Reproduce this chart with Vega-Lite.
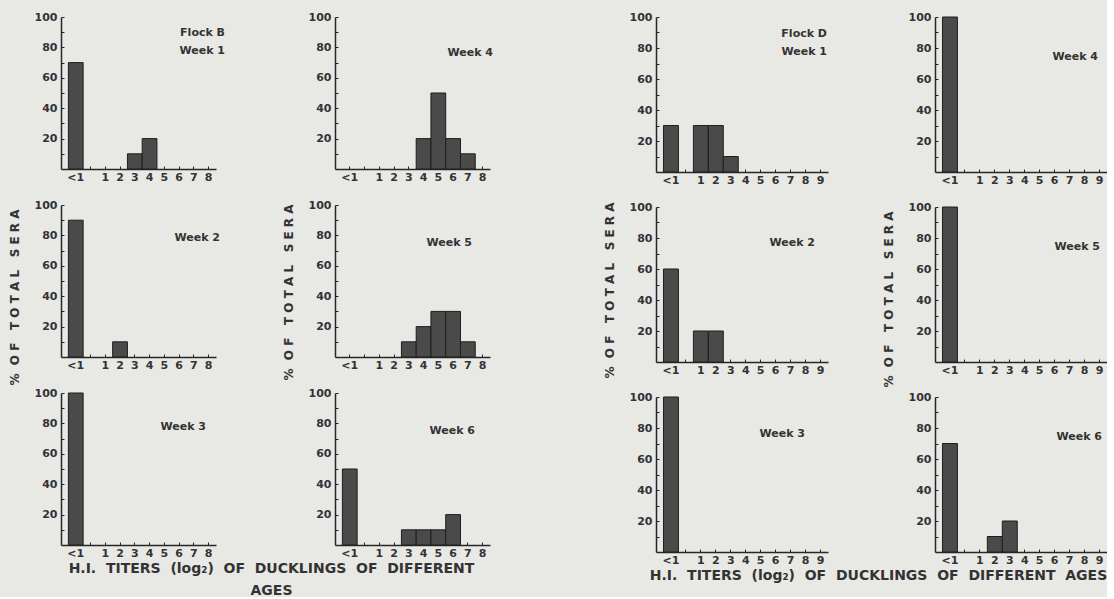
{
  "$schema": "https://vega.github.io/schema/vega-lite/v6.json",
  "background": "#e8e8e5",
  "padding": {"left": 8, "top": 11, "right": 0, "bottom": 0},
  "datasets": {
    "hist": [
      {"flock": "B", "week": 1, "titer": "<1", "pct": 70},
      {"flock": "B", "week": 1, "titer": "3", "pct": 10},
      {"flock": "B", "week": 1, "titer": "4", "pct": 20},
      {"flock": "B", "week": 2, "titer": "<1", "pct": 90},
      {"flock": "B", "week": 2, "titer": "2", "pct": 10},
      {"flock": "B", "week": 3, "titer": "<1", "pct": 100},
      {"flock": "B", "week": 4, "titer": "4", "pct": 20},
      {"flock": "B", "week": 4, "titer": "5", "pct": 50},
      {"flock": "B", "week": 4, "titer": "6", "pct": 20},
      {"flock": "B", "week": 4, "titer": "7", "pct": 10},
      {"flock": "B", "week": 5, "titer": "3", "pct": 10},
      {"flock": "B", "week": 5, "titer": "4", "pct": 20},
      {"flock": "B", "week": 5, "titer": "5", "pct": 30},
      {"flock": "B", "week": 5, "titer": "6", "pct": 30},
      {"flock": "B", "week": 5, "titer": "7", "pct": 10},
      {"flock": "B", "week": 6, "titer": "<1", "pct": 50},
      {"flock": "B", "week": 6, "titer": "3", "pct": 10},
      {"flock": "B", "week": 6, "titer": "4", "pct": 10},
      {"flock": "B", "week": 6, "titer": "5", "pct": 10},
      {"flock": "B", "week": 6, "titer": "6", "pct": 20},
      {"flock": "D", "week": 1, "titer": "<1", "pct": 30},
      {"flock": "D", "week": 1, "titer": "1", "pct": 30},
      {"flock": "D", "week": 1, "titer": "2", "pct": 30},
      {"flock": "D", "week": 1, "titer": "3", "pct": 10},
      {"flock": "D", "week": 2, "titer": "<1", "pct": 60},
      {"flock": "D", "week": 2, "titer": "1", "pct": 20},
      {"flock": "D", "week": 2, "titer": "2", "pct": 20},
      {"flock": "D", "week": 3, "titer": "<1", "pct": 100},
      {"flock": "D", "week": 4, "titer": "<1", "pct": 100},
      {"flock": "D", "week": 5, "titer": "<1", "pct": 100},
      {"flock": "D", "week": 6, "titer": "<1", "pct": 70},
      {"flock": "D", "week": 6, "titer": "2", "pct": 10},
      {"flock": "D", "week": 6, "titer": "3", "pct": 20}
    ]
  },
  "spacing": 110,
  "hconcat": [
    {
      "bounds": "flush",
      "columns": 2,
      "spacing": {"column": 119, "row": 36},
      "concat": [
        {
          "width": 155, "height": 152,
          "data": {"name": "hist"},
          "transform": [{"filter": "datum.flock == 'B' && datum.week == 1"}],
          "title": {"text": ["Flock B", "Week 1"], "dx": 9, "dy": 49},
          "mark": "bar",
          "encoding": {
            "x": {"field": "titer", "type": "ordinal", "sort": null, "scale": {"domain": ["<1", " ", "1", "2", "3", "4", "5", "6", "7", "8"], "paddingInner": 0, "paddingOuter": 0.25, "align": 1}},
            "y": {"field": "pct", "type": "quantitative", "scale": {"domain": [0, 100]}, "axis": {"values": [10, 20, 30, 40, 50, 60, 70, 80, 90, 100], "labelExpr": "datum.value % 20 == 0 ? datum.label : ''"}}
          }
        },
        {
          "width": 155, "height": 152,
          "data": {"name": "hist"},
          "transform": [{"filter": "datum.flock == 'B' && datum.week == 4"}],
          "title": {"text": "Week 4", "dx": 3, "dy": 51},
          "mark": "bar",
          "encoding": {
            "x": {"field": "titer", "type": "ordinal", "sort": null, "scale": {"domain": ["<1", " ", "1", "2", "3", "4", "5", "6", "7", "8"], "paddingInner": 0, "paddingOuter": 0.25, "align": 1}},
            "y": {"field": "pct", "type": "quantitative", "scale": {"domain": [0, 100]}, "axis": {"values": [10, 20, 30, 40, 50, 60, 70, 80, 90, 100], "labelExpr": "datum.value % 20 == 0 ? datum.label : ''"}}
          }
        },
        {
          "width": 155, "height": 152,
          "data": {"name": "hist"},
          "transform": [{"filter": "datum.flock == 'B' && datum.week == 2"}],
          "title": {"text": "Week 2", "dx": 4, "dy": 48},
          "mark": "bar",
          "encoding": {
            "x": {"field": "titer", "type": "ordinal", "sort": null, "scale": {"domain": ["<1", " ", "1", "2", "3", "4", "5", "6", "7", "8"], "paddingInner": 0, "paddingOuter": 0.25, "align": 1}},
            "y": {"field": "pct", "type": "quantitative", "scale": {"domain": [0, 100]}, "axis": {"values": [10, 20, 30, 40, 50, 60, 70, 80, 90, 100], "labelExpr": "datum.value % 20 == 0 ? datum.label : ''", "title": "% \u00a0O F \u00a0\u00a0T O T A L \u00a0\u00a0S E R A", "titlePadding": 13, "titleY": 92}}
          }
        },
        {
          "width": 155, "height": 152,
          "data": {"name": "hist"},
          "transform": [{"filter": "datum.flock == 'B' && datum.week == 5"}],
          "title": {"text": "Week 5", "dx": -18, "dy": 53},
          "mark": "bar",
          "encoding": {
            "x": {"field": "titer", "type": "ordinal", "sort": null, "scale": {"domain": ["<1", " ", "1", "2", "3", "4", "5", "6", "7", "8"], "paddingInner": 0, "paddingOuter": 0.25, "align": 1}},
            "y": {"field": "pct", "type": "quantitative", "scale": {"domain": [0, 100]}, "axis": {"values": [10, 20, 30, 40, 50, 60, 70, 80, 90, 100], "labelExpr": "datum.value % 20 == 0 ? datum.label : ''", "title": "% \u00a0O F \u00a0\u00a0T O T A L \u00a0\u00a0S E R A", "titlePadding": 13, "titleY": 87}}
          }
        },
        {
          "width": 155, "height": 152,
          "data": {"name": "hist"},
          "transform": [{"filter": "datum.flock == 'B' && datum.week == 3"}],
          "title": {"text": "Week 3", "dx": -10, "dy": 49},
          "mark": "bar",
          "encoding": {
            "x": {"field": "titer", "type": "ordinal", "sort": null, "scale": {"domain": ["<1", " ", "1", "2", "3", "4", "5", "6", "7", "8"], "paddingInner": 0, "paddingOuter": 0.25, "align": 1}, "axis": {"title": ["H.I.\u00a0 TITERS\u00a0 (log₂)\u00a0 OF\u00a0 DUCKLINGS\u00a0 OF\u00a0 DIFFERENT", "AGES"], "titleX": 210, "titleAlign": "center", "titleFontSize": 14, "titleLineHeight": 22, "titlePadding": 3}},
            "y": {"field": "pct", "type": "quantitative", "scale": {"domain": [0, 100]}, "axis": {"values": [10, 20, 30, 40, 50, 60, 70, 80, 90, 100], "labelExpr": "datum.value % 20 == 0 ? datum.label : ''"}}
          }
        },
        {
          "width": 155, "height": 152,
          "data": {"name": "hist"},
          "transform": [{"filter": "datum.flock == 'B' && datum.week == 6"}],
          "title": {"text": "Week 6", "dx": -15, "dy": 53},
          "mark": "bar",
          "encoding": {
            "x": {"field": "titer", "type": "ordinal", "sort": null, "scale": {"domain": ["<1", " ", "1", "2", "3", "4", "5", "6", "7", "8"], "paddingInner": 0, "paddingOuter": 0.25, "align": 1}},
            "y": {"field": "pct", "type": "quantitative", "scale": {"domain": [0, 100]}, "axis": {"values": [10, 20, 30, 40, 50, 60, 70, 80, 90, 100], "labelExpr": "datum.value % 20 == 0 ? datum.label : ''"}}
          }
        }
      ]
    },
    {
      "bounds": "flush",
      "columns": 2,
      "spacing": {"column": 107, "row": 35},
      "concat": [
        {
          "width": 172, "height": 155,
          "data": {"name": "hist"},
          "transform": [{"filter": "datum.flock == 'D' && datum.week == 1"}],
          "title": {"text": ["Flock D", "Week 1"], "dx": -1, "dy": 50},
          "mark": "bar",
          "encoding": {
            "x": {"field": "titer", "type": "ordinal", "sort": null, "scale": {"domain": ["<1", " ", "1", "2", "3", "4", "5", "6", "7", "8", "9"], "paddingInner": 0, "paddingOuter": 0.25, "align": 1}},
            "y": {"field": "pct", "type": "quantitative", "scale": {"domain": [0, 100]}, "axis": {"values": [10, 20, 30, 40, 50, 60, 70, 80, 90, 100], "labelExpr": "datum.value % 20 == 0 ? datum.label : ''"}}
          }
        },
        {
          "width": 172, "height": 155,
          "data": {"name": "hist"},
          "transform": [{"filter": "datum.flock == 'D' && datum.week == 4"}],
          "title": {"text": "Week 4", "dx": -9, "dy": 55},
          "mark": "bar",
          "encoding": {
            "x": {"field": "titer", "type": "ordinal", "sort": null, "scale": {"domain": ["<1", " ", "1", "2", "3", "4", "5", "6", "7", "8", "9"], "paddingInner": 0, "paddingOuter": 0.25, "align": 1}},
            "y": {"field": "pct", "type": "quantitative", "scale": {"domain": [0, 100]}, "axis": {"values": [10, 20, 30, 40, 50, 60, 70, 80, 90, 100], "labelExpr": "datum.value % 20 == 0 ? datum.label : ''"}}
          }
        },
        {
          "width": 172, "height": 155,
          "data": {"name": "hist"},
          "transform": [{"filter": "datum.flock == 'D' && datum.week == 2"}],
          "title": {"text": "Week 2", "dx": -13, "dy": 51},
          "mark": "bar",
          "encoding": {
            "x": {"field": "titer", "type": "ordinal", "sort": null, "scale": {"domain": ["<1", " ", "1", "2", "3", "4", "5", "6", "7", "8", "9"], "paddingInner": 0, "paddingOuter": 0.25, "align": 1}},
            "y": {"field": "pct", "type": "quantitative", "scale": {"domain": [0, 100]}, "axis": {"values": [10, 20, 30, 40, 50, 60, 70, 80, 90, 100], "labelExpr": "datum.value % 20 == 0 ? datum.label : ''", "title": "% \u00a0O F \u00a0\u00a0T O T A L \u00a0\u00a0S E R A", "titlePadding": 13, "titleY": 83}}
          }
        },
        {
          "width": 172, "height": 155,
          "data": {"name": "hist"},
          "transform": [{"filter": "datum.flock == 'D' && datum.week == 5"}],
          "title": {"text": "Week 5", "dx": -7, "dy": 55},
          "mark": "bar",
          "encoding": {
            "x": {"field": "titer", "type": "ordinal", "sort": null, "scale": {"domain": ["<1", " ", "1", "2", "3", "4", "5", "6", "7", "8", "9"], "paddingInner": 0, "paddingOuter": 0.25, "align": 1}},
            "y": {"field": "pct", "type": "quantitative", "scale": {"domain": [0, 100]}, "axis": {"values": [10, 20, 30, 40, 50, 60, 70, 80, 90, 100], "labelExpr": "datum.value % 20 == 0 ? datum.label : ''", "title": "% \u00a0O F \u00a0\u00a0T O T A L \u00a0\u00a0S E R A", "titlePadding": 13, "titleY": 92}}
          }
        },
        {
          "width": 172, "height": 155,
          "data": {"name": "hist"},
          "transform": [{"filter": "datum.flock == 'D' && datum.week == 3"}],
          "title": {"text": "Week 3", "dx": -23, "dy": 52},
          "mark": "bar",
          "encoding": {
            "x": {"field": "titer", "type": "ordinal", "sort": null, "scale": {"domain": ["<1", " ", "1", "2", "3", "4", "5", "6", "7", "8", "9"], "paddingInner": 0, "paddingOuter": 0.25, "align": 1}, "axis": {"title": "H.I.\u00a0 TITERS\u00a0 (log₂)\u00a0 OF\u00a0 DUCKLINGS\u00a0 OF\u00a0 DIFFERENT\u00a0 AGES", "titleX": 222, "titleAlign": "center", "titleFontSize": 14, "titlePadding": 3}},
            "y": {"field": "pct", "type": "quantitative", "scale": {"domain": [0, 100]}, "axis": {"values": [10, 20, 30, 40, 50, 60, 70, 80, 90, 100], "labelExpr": "datum.value % 20 == 0 ? datum.label : ''"}}
          }
        },
        {
          "width": 172, "height": 155,
          "data": {"name": "hist"},
          "transform": [{"filter": "datum.flock == 'D' && datum.week == 6"}],
          "title": {"text": "Week 6", "dx": -5, "dy": 55},
          "mark": "bar",
          "encoding": {
            "x": {"field": "titer", "type": "ordinal", "sort": null, "scale": {"domain": ["<1", " ", "1", "2", "3", "4", "5", "6", "7", "8", "9"], "paddingInner": 0, "paddingOuter": 0.25, "align": 1}},
            "y": {"field": "pct", "type": "quantitative", "scale": {"domain": [0, 100]}, "axis": {"values": [10, 20, 30, 40, 50, 60, 70, 80, 90, 100], "labelExpr": "datum.value % 20 == 0 ? datum.label : ''"}}
          }
        }
      ]
    }
  ],
  "config": {
    "view": {"stroke": null},
    "axis": {"grid": false, "domainColor": "#262626", "domainWidth": 1.5, "tickColor": "#262626", "tickWidth": 1, "tickSize": -3, "labelFont": "DejaVu Sans", "labelFontWeight": "bold", "labelFontSize": 11, "labelColor": "#333333", "titleFont": "DejaVu Sans", "titleFontWeight": "bold", "titleFontSize": 12, "titleColor": "#333333"},
    "axisX": {"labelAngle": 0, "labelPadding": 5, "title": null},
    "axisY": {"labelPadding": 7, "title": null},
    "title": {"font": "DejaVu Sans", "fontWeight": "bold", "fontSize": 11, "color": "#333333", "anchor": "end", "frame": "group", "baseline": "top", "offset": 0, "lineHeight": 18},
    "bar": {"fill": "#4a4a4a", "stroke": "#1e1e1e", "strokeWidth": 1}
  }
}
